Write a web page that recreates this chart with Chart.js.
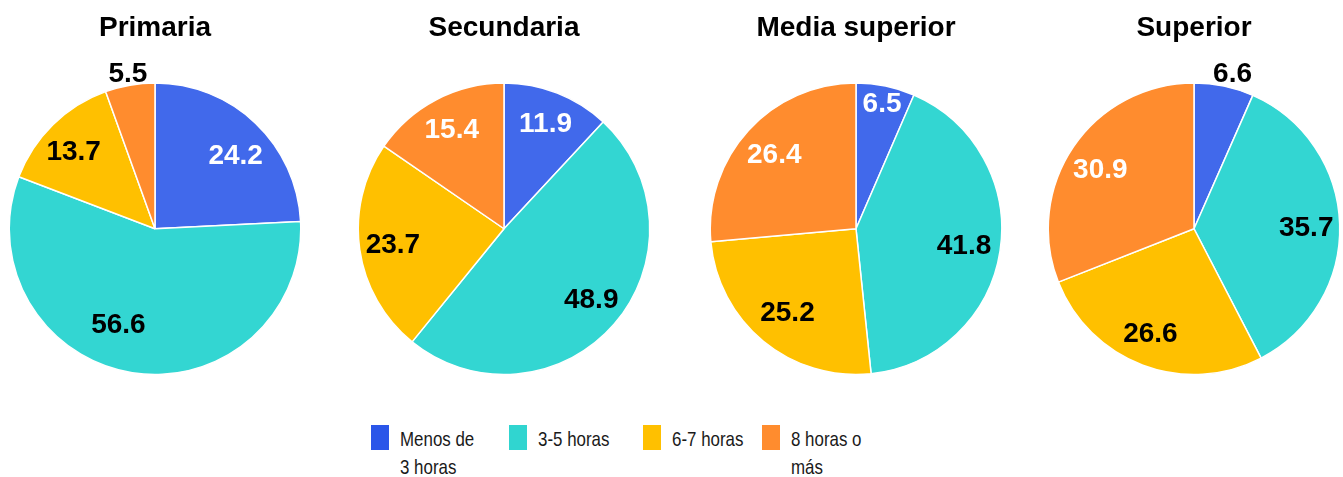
<!DOCTYPE html>
<html>
<head>
<meta charset="utf-8">
<script src="https://cdn.jsdelivr.net/npm/chart.js@4"></script>
<style>
  html, body { margin: 0; padding: 0; background: #fff; overflow: hidden; }
  body { width: 1343px; height: 477px; position: relative; font-family: 'Liberation Sans', Arial, sans-serif; }
  canvas { position: absolute; top: 0; }
  .leg-box { position: absolute; top: 425px; width: 18px; height: 25px; }
  .leg-text { position: absolute; top: 425px; font-family: 'Liberation Sans', Arial, sans-serif;
              font-size: 21px; line-height: 28px; color: #1a1a1a; white-space: nowrap;
              transform: scaleX(0.805); transform-origin: left top; }
</style>
</head>
<body>
<canvas id="primaria" width="296" height="380" style="left:7px"></canvas>
<canvas id="secundaria" width="296" height="380" style="left:356px"></canvas>
<canvas id="mediaSuperior" width="296" height="380" style="left:708px"></canvas>
<canvas id="superior" width="296" height="380" style="left:1046px"></canvas>

<div id="legend"></div>

<script>
// categories (legend)
const categorias = ['Menos de 3 horas', '3-5 horas', '6-7 horas', '8 horas o más'];
// chart titles
const niveles = ['Primaria', 'Secundaria', 'Media superior', 'Superior'];
// values per level, in category order
const primaria = [24.2, 56.6, 13.7, 5.5];
const secundaria = [11.9, 48.9, 23.7, 15.4];
const mediaSuperior = [6.5, 41.8, 25.2, 26.4];
const superior = [6.6, 35.7, 26.6, 30.9];

const colores = ['#4169EB', '#33D6D2', '#FFC000', '#FF8C2E'];
const coloresLeyenda = ['#2B56E9', '#30D5D0', '#FFC000', '#FF8C2E'];
const colorTexto = ['#ffffff', '#000000', '#000000', '#ffffff'];

// where each value label sits: fraction of the radius, and a small turn (degrees) off the mid-angle
const radioEtiquetas = [
  [0.75, 0.70, 0.77, 1.08],
  [0.78, 0.77, 0.77, 0.77],
  [0.88, 0.75, 0.74, 0.76],
  [1.10, 0.77, 0.78, 0.76]
];
const giroEtiquetas = [
  [4, 12, -2, 0],
  [0, -2, 0, 0],
  [0, 0, 0, 0],
  [2, 1, 2, -2]
];

// simple value-label plugin (no datalabels available)
const valueLabels = {
  id: 'valueLabels',
  afterDatasetsDraw(chart, args, opts) {
    const ctx = chart.ctx;
    const meta = chart.getDatasetMeta(0);
    const values = chart.data.datasets[0].data;
    ctx.save();
    ctx.font = 'bold 28px "Liberation Sans", Arial, sans-serif';
    ctx.textAlign = 'center';
    ctx.textBaseline = 'middle';
    meta.data.forEach((arc, i) => {
      const p = arc.getProps(['x', 'y', 'startAngle', 'endAngle', 'outerRadius'], true);
      const mid = (p.startAngle + p.endAngle) / 2 + opts.turn[i] * Math.PI / 180;
      const f = opts.radius[i];
      const r = p.outerRadius * f;
      ctx.fillStyle = f > 1 ? '#000000' : colorTexto[i];
      ctx.fillText(values[i].toFixed(1), p.x + Math.cos(mid) * r, p.y + Math.sin(mid) * r + 1);
    });
    ctx.restore();
  }
};

function makePie(id, title, values, radius, turn) {
  new Chart(
    document.getElementById(id),
    {
      type: 'pie',
      data: {
        labels: categorias,
        datasets: [
          {
            data: values,
            backgroundColor: colores,
            borderColor: '#ffffff',
            borderWidth: 1.5
          }
        ]
      },
      options: {
        responsive: false,
        animation: false,
        layout: { padding: { left: 1.5, right: 1.5, top: 0, bottom: 4 } },
        plugins: {
          legend: { display: false },
          tooltip: { enabled: false },
          title: {
            display: true,
            text: title,
            color: '#000000',
            font: { family: '"Liberation Sans", Arial, sans-serif', size: 28, weight: 'bold', lineHeight: 1.2 },
            padding: { top: 11, bottom: 36.9 }
          },
          valueLabels: { radius: radius, turn: turn }
        }
      },
      plugins: [valueLabels]
    }
  );
}

makePie('primaria', niveles[0], primaria, radioEtiquetas[0], giroEtiquetas[0]);
makePie('secundaria', niveles[1], secundaria, radioEtiquetas[1], giroEtiquetas[1]);
makePie('mediaSuperior', niveles[2], mediaSuperior, radioEtiquetas[2], giroEtiquetas[2]);
makePie('superior', niveles[3], superior, radioEtiquetas[3], giroEtiquetas[3]);

// legend built from the categories
const legendLeft = [371, 509, 643, 762];
const legendText = ['Menos de<br>3 horas', '3-5 horas', '6-7 horas', '8 horas o<br>más'];
const legend = document.getElementById('legend');
categorias.forEach((c, i) => {
  const box = document.createElement('div');
  box.className = 'leg-box';
  box.style.left = legendLeft[i] + 'px';
  box.style.background = coloresLeyenda[i];
  legend.appendChild(box);
  const txt = document.createElement('div');
  txt.className = 'leg-text';
  txt.style.left = (legendLeft[i] + 29) + 'px';
  txt.innerHTML = legendText[i];
  legend.appendChild(txt);
});
</script>
</body>
</html>
